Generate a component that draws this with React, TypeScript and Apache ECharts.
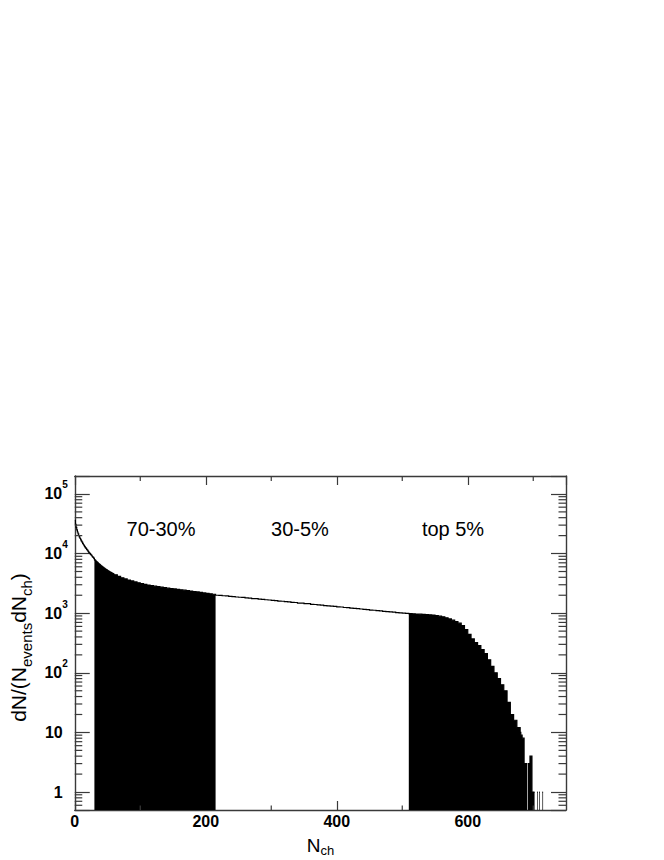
import { useEffect, useRef } from "react";
import * as echarts from "echarts";

// ---- data: dN/(N_events dN_ch) per N_ch bin ----
// N_ch 0..59, bins of width 1
const headStart = 0;
const headCounts = [
  36000, 31000, 27500, 25000, 23000, 21400, 20000, 18900, 17900, 17000,
  16200, 15500, 14800, 14200, 13600, 13100, 12600, 12200, 11800, 11400,
  11000, 10600, 10300, 10000, 9700, 9400, 9100, 8800, 8600, 8300,
  7900, 7700, 7500, 7320, 7140, 6970, 6810, 6660, 6510, 6370,
  6240, 6110, 5990, 5870, 5760, 5650, 5550, 5450, 5360, 5270,
  5180, 5100, 5020, 4940, 4870, 4800, 4730, 4660, 4600, 4540,
];
// N_ch 60..679, bins of width 5
const bodyStart = 60;
const bodyWidth = 5;
const bodyCounts = [
  4400, 4150, 3930, 3760,
  3600, 3470, 3350, 3230, 3130, 3050, 2970, 2900, 2840, 2780,
  2730, 2680, 2630, 2590, 2550, 2510, 2470, 2430, 2390, 2350,
  2310, 2270, 2230, 2190, 2150, 2110, 2080,
  2000, 1985, 1960, 1945, 1915, 1900, 1870, 1850, 1835, 1805,
  1790, 1760, 1750, 1720, 1705, 1680, 1665, 1635, 1625, 1595,
  1585, 1560, 1545, 1520, 1510, 1480, 1470, 1450, 1445, 1410,
  1400, 1375, 1370, 1340, 1330, 1310, 1300, 1280, 1270, 1245,
  1240, 1215, 1205, 1190, 1175, 1160, 1150, 1130, 1120, 1100,
  1095, 1075, 1065, 1050, 1040, 1025, 1015, 1000, 990,
  980, 975, 970, 962, 955, 948, 940, 928, 912, 892,
  868, 835, 800, 765, 725, 680, 620, 530, 440, 370,
  320, 285, 245, 210, 165, 128, 100, 80, 63, 50,
  32, 20, 16, 12,
];
// N_ch 680..714, bins of width 1
const tailStart = 680;
const tailCounts = [
  10, 9, 9, 8, 8, 8, 3, 3, 3, 3,
  3, 0, 3, 3, 3, 4, 4, 4, 1, 1,
  1, 1, 0, 0, 0, 0, 1, 0, 0, 1,
  0, 0, 0, 0, 1,
];

// centrality classes
const classLabels = ["70-30%", "30-5%", "top 5%"];
const classEdges = [30, 215, 510, 750];
const classFilled = [true, false, true];

// axes
const X_MIN = 0;
const X_MAX = 750;
const Y_MIN = 0.5;
const Y_MAX = 2e5;
const xMinorTicks = [100, 300, 500, 700];
const decades = [0.1, 1, 10, 100, 1000, 10000, 100000];
const mantissas = [2, 3, 4, 5, 6, 7, 8, 9];

type Bin = { x0: number; x1: number; y: number };
const bins: Bin[] = [];
headCounts.forEach((y, i) => bins.push({ x0: headStart + i, x1: headStart + i + 1, y }));
bodyCounts.forEach((y, i) =>
  bins.push({ x0: bodyStart + i * bodyWidth, x1: bodyStart + (i + 1) * bodyWidth, y })
);
tailCounts.forEach((y, i) => bins.push({ x0: tailStart + i, x1: tailStart + i + 1, y }));

function runsOf(pred: (b: Bin) => boolean): Bin[][] {
  const runs: Bin[][] = [];
  let cur: Bin[] = [];
  for (const b of bins) {
    if (b.y > 0 && pred(b)) cur.push(b);
    else {
      if (cur.length) runs.push(cur);
      cur = [];
    }
  }
  if (cur.length) runs.push(cur);
  return runs;
}
const isFilled = (b: Bin) => {
  for (let k = 0; k < classFilled.length; k++) {
    if (classFilled[k] && b.x0 >= classEdges[k] && b.x1 <= classEdges[k + 1]) return true;
  }
  return false;
};
const fillRuns = runsOf(isFilled);
const lineRuns = runsOf(() => true);

const yMinorTicks: number[] = [];
decades.forEach((d) =>
  mantissas.forEach((m) => {
    const v = d * m;
    if (v > Y_MIN * 1.0001 && v < Y_MAX * 0.9999) yMinorTicks.push(v);
  })
);

const FONT = "Liberation Sans, Arial, Helvetica, sans-serif";
const FRAME = "#3a3a3a";

export default function App() {
  const ref = useRef<HTMLDivElement>(null);
  useEffect(() => {
    if (!ref.current) return;
    const chart = echarts.init(ref.current, undefined, { renderer: "svg" });
    const frameLine = { show: true, onZero: false, lineStyle: { color: FRAME, width: 1.4 } };
    const yFormatter = (v: number) => {
      const e = Math.round(Math.log10(v));
      if (Math.abs(v / Math.pow(10, e) - 1) > 1e-6) return "";
      if (e === 0) return "{b|1}{p| }";
      if (e === 1) return "{b|10}{p| }";
      return "{b|10}{s|" + e + "}";
    };
    const option: any = {
      animation: false,
      backgroundColor: "#fff",
      grid: { left: 74, top: 476, width: 492, height: 334, containLabel: false },
      xAxis: [
        {
          type: "value",
          min: X_MIN,
          max: X_MAX,
          interval: 200,
          position: "bottom",
          axisLine: frameLine,
          axisTick: { show: true, inside: true, length: 9, lineStyle: { color: FRAME, width: 1.2 } },
          axisLabel: {
            margin: 3,
            fontSize: 16,
            fontWeight: "bold",
            fontFamily: FONT,
            color: "#000",
            showMaxLabel: false,
          },
          splitLine: { show: false },
          name: "{m|N}{s|ch}",
          nameLocation: "middle",
          nameGap: 23,
          nameTextStyle: {
            rich: {
              m: { fontSize: 19, lineHeight: 24, fontFamily: FONT, color: "#000" },
              s: { fontSize: 13, lineHeight: 14, fontFamily: FONT, color: "#000", verticalAlign: "bottom" },
            },
          },
        },
        {
          type: "value",
          min: X_MIN,
          max: X_MAX,
          interval: 200,
          position: "top",
          axisLine: frameLine,
          axisTick: { show: true, inside: true, length: 9, lineStyle: { color: FRAME, width: 1.2 } },
          axisLabel: { show: false },
          splitLine: { show: false },
        },
      ],
      yAxis: [
        {
          type: "log",
          logBase: 10,
          min: Y_MIN,
          max: Y_MAX,
          position: "left",
          axisLine: frameLine,
          axisTick: { show: true, inside: true, length: 15, lineStyle: { color: FRAME, width: 1.2 } },
          axisLabel: {
            margin: 7,
            formatter: yFormatter,
            rich: {
              b: { fontSize: 16, fontWeight: "bold", fontFamily: FONT, color: "#000", lineHeight: 28 },
              s: {
                fontSize: 10,
                fontWeight: "bold",
                fontFamily: FONT,
                color: "#000",
                lineHeight: 12,
                verticalAlign: "top",
              },
              p: { width: 5, fontSize: 10, lineHeight: 12 },
            },
          },
          splitLine: { show: false },
          name: "{m|dN/(N}{s|events}{m|dN}{s|ch}{m|)}{e| }",
          nameLocation: "middle",
          nameRotate: 90,
          nameGap: 37,
          nameTextStyle: {
            rich: {
              m: { fontSize: 21, lineHeight: 30, fontFamily: FONT, color: "#000" },
              s: { fontSize: 15, lineHeight: 16, fontFamily: FONT, color: "#000", verticalAlign: "bottom" },
              e: { width: 9, fontSize: 10, lineHeight: 10 },
            },
          },
        },
        {
          type: "log",
          logBase: 10,
          min: Y_MIN,
          max: Y_MAX,
          position: "right",
          axisLine: frameLine,
          axisTick: { show: true, inside: true, length: 15, lineStyle: { color: FRAME, width: 1.2 } },
          axisLabel: { show: false },
          splitLine: { show: false },
        },
      ],
      series: [
        {
          type: "custom",
          name: "fill",
          coordinateSystem: "cartesian2d",
          xAxisIndex: 0,
          yAxisIndex: 0,
          silent: true,
          clip: true,
          encode: { x: 0, y: 1 },
          data: fillRuns.map((r, i) => [r[0].x0, r[0].y, i]),
          renderItem: (p: any, api: any) => {
            const run = fillRuns[p.dataIndex];
            const pts: number[][] = [];
            pts.push(api.coord([run[0].x0, Y_MIN]));
            run.forEach((b) => {
              pts.push(api.coord([b.x0, b.y]));
              pts.push(api.coord([b.x1, b.y]));
            });
            pts.push(api.coord([run[run.length - 1].x1, Y_MIN]));
            return { type: "polygon", shape: { points: pts }, style: { fill: "#000", stroke: "none" } };
          },
        },
        {
          type: "custom",
          name: "outline",
          coordinateSystem: "cartesian2d",
          xAxisIndex: 0,
          yAxisIndex: 0,
          silent: true,
          clip: true,
          encode: { x: 0, y: 1 },
          data: lineRuns.map((r, i) => [r[0].x0, r[0].y, i]),
          renderItem: (p: any, api: any) => {
            const run = lineRuns[p.dataIndex];
            const pts: number[][] = [];
            run.forEach((b) => {
              pts.push(api.coord([b.x0, b.y]));
              pts.push(api.coord([b.x1, b.y]));
            });
            return {
              type: "polyline",
              shape: { points: pts },
              style: { fill: "none", stroke: "#000", lineWidth: 1.2 },
            };
          },
        },
        {
          type: "custom",
          name: "yMinorTicks",
          coordinateSystem: "cartesian2d",
          xAxisIndex: 0,
          yAxisIndex: 0,
          silent: true,
          clip: false,
          encode: { x: 0, y: 1 },
          data: yMinorTicks.map((v) => [X_MIN, v]),
          renderItem: (_p: any, api: any) => {
            const v = api.value(1);
            const a = api.coord([X_MIN, v]);
            const b = api.coord([X_MAX, v]);
            const st = { stroke: FRAME, lineWidth: 1.2 };
            return {
              type: "group",
              children: [
                { type: "line", shape: { x1: a[0], y1: a[1], x2: a[0] + 7.5, y2: a[1] }, style: st },
                { type: "line", shape: { x1: b[0] - 7.5, y1: b[1], x2: b[0], y2: b[1] }, style: st },
              ],
            };
          },
        },
        {
          type: "custom",
          name: "xMinorTicks",
          coordinateSystem: "cartesian2d",
          xAxisIndex: 0,
          yAxisIndex: 0,
          silent: true,
          clip: false,
          encode: { x: 0, y: 1 },
          data: xMinorTicks.map((v) => [v, Y_MIN]),
          renderItem: (_p: any, api: any) => {
            const v = api.value(0);
            const a = api.coord([v, Y_MIN]);
            const b = api.coord([v, Y_MAX]);
            const st = { stroke: FRAME, lineWidth: 1.2 };
            return {
              type: "group",
              children: [
                { type: "line", shape: { x1: a[0], y1: a[1], x2: a[0], y2: a[1] - 4.5 }, style: st },
                { type: "line", shape: { x1: b[0], y1: b[1], x2: b[0], y2: b[1] + 5 }, style: st },
              ],
            };
          },
        },
      ],
      graphic: classLabels.map((t, i) => ({
        type: "text",
        x: [161, 300, 453][i],
        y: 529,
        style: {
          text: t,
          fontSize: 20,
          fontFamily: FONT,
          fill: "#000",
          align: "center",
          verticalAlign: "middle",
        },
      })),
    };
    chart.setOption(option);
    return () => chart.dispose();
  }, []);
  return (
    <div
      ref={ref}
      style={{ position: "fixed", left: 0, top: 0, width: 664, height: 860, background: "#fff" }}
    />
  );
}
